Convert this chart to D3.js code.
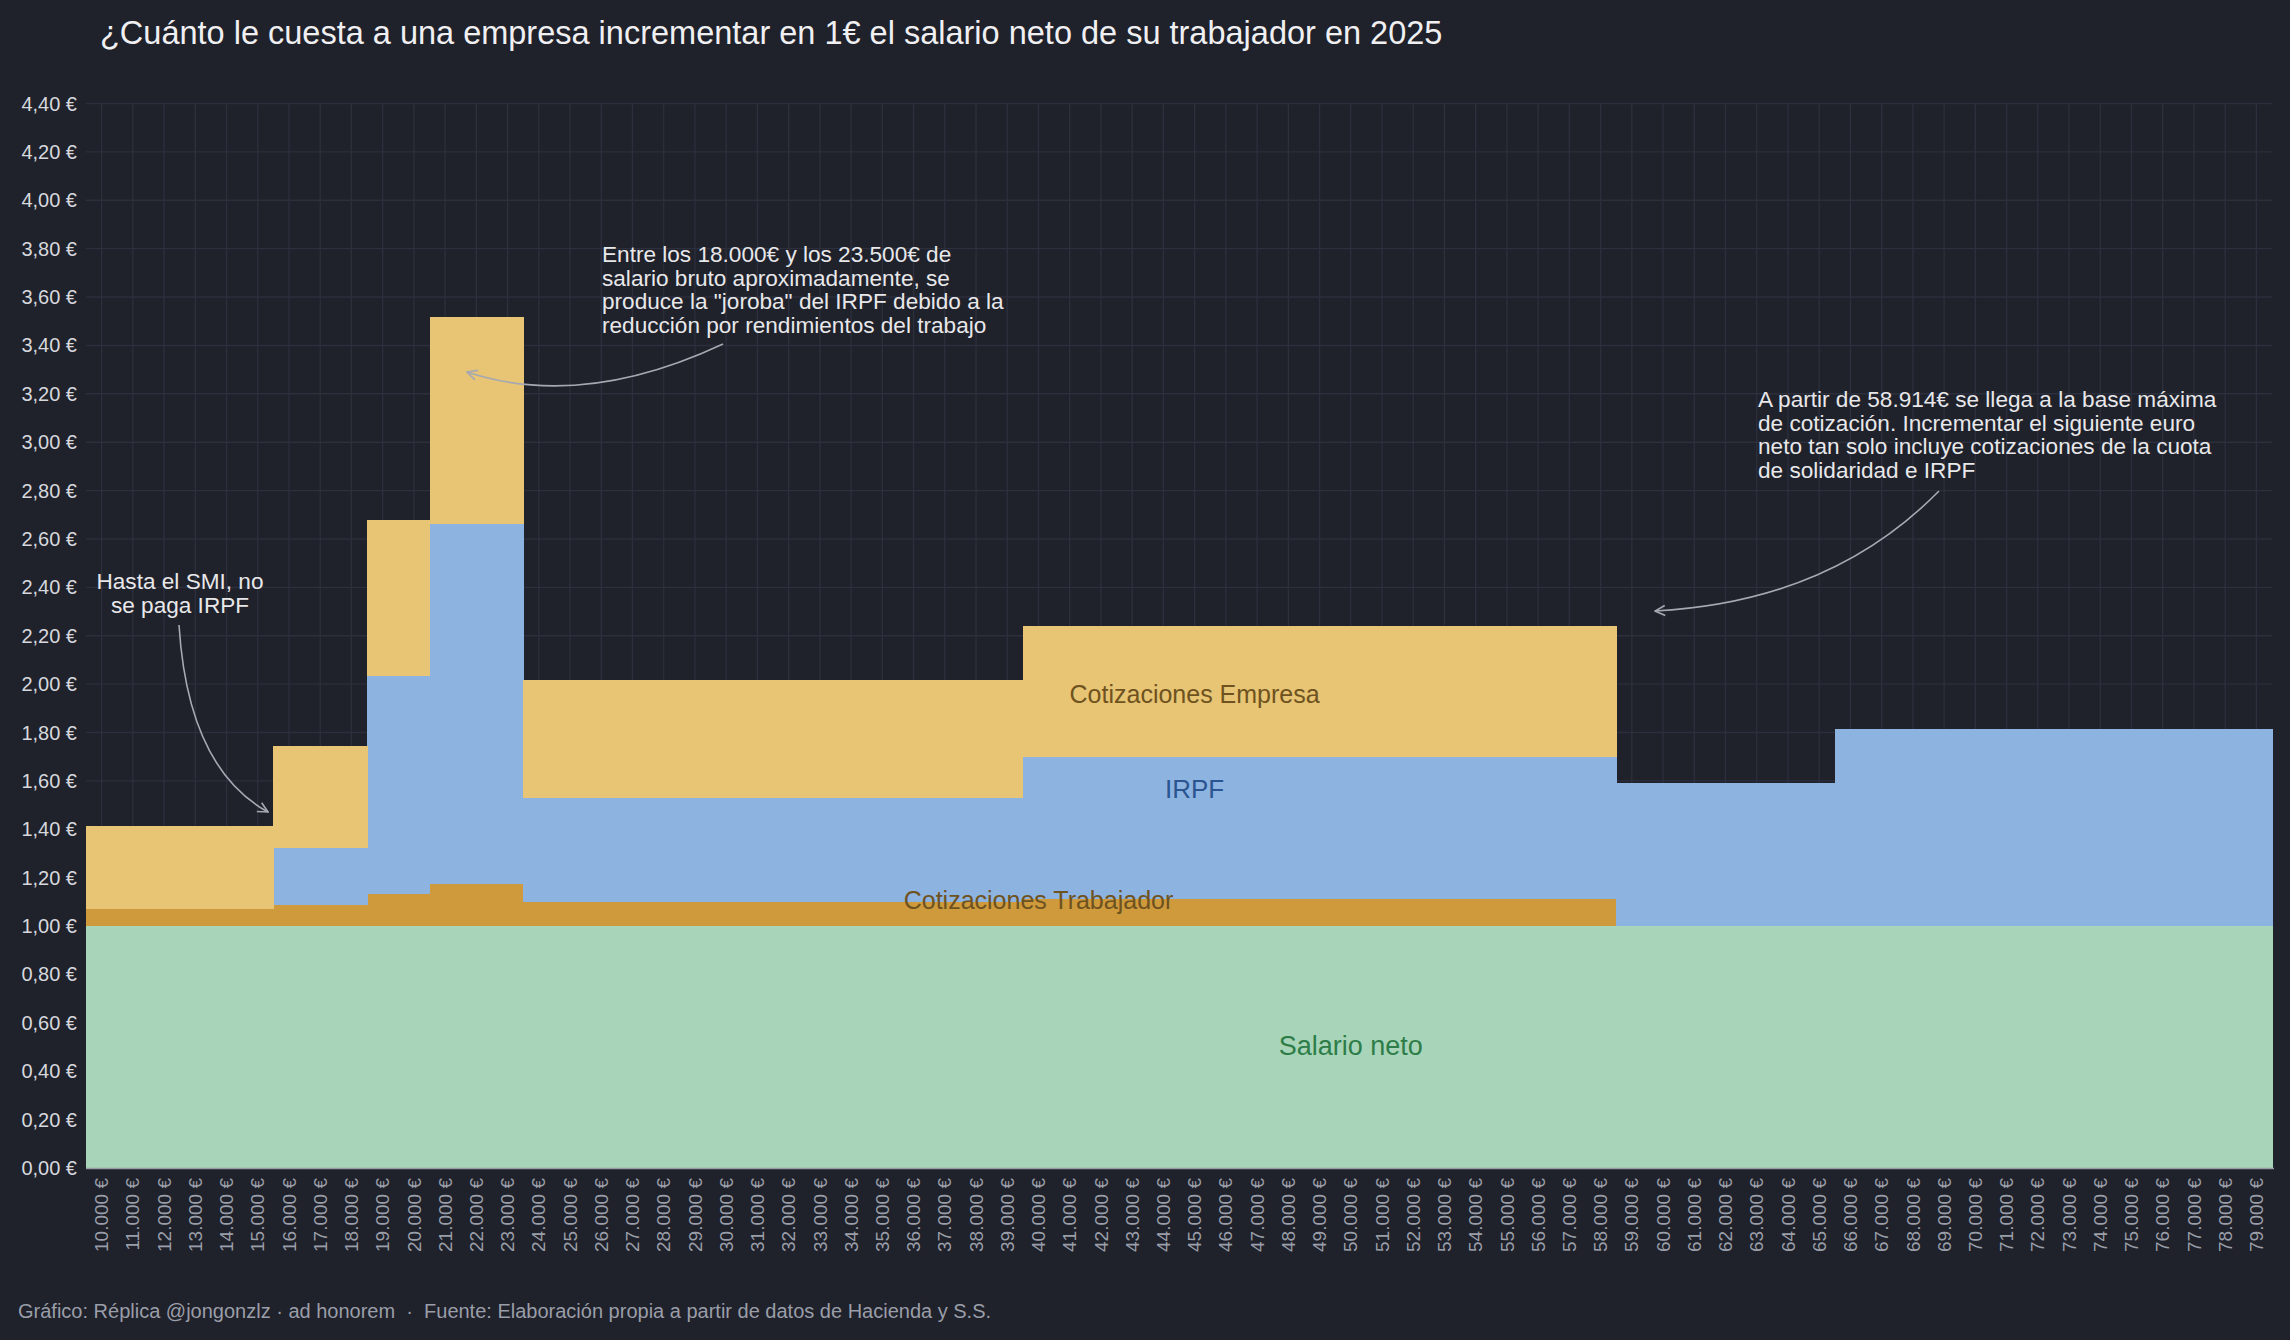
<!DOCTYPE html>
<html><head><meta charset="utf-8">
<script src="https://cdn.jsdelivr.net/npm/d3@7"></script>
<style>
html,body{margin:0;padding:0;background:#1f212b;}
svg{display:block;}
text{font-family:"Liberation Sans", Arial, Helvetica, sans-serif;}
</style></head><body>
<svg id="chart" width="2290" height="1340"></svg>
<script>
// ---- DATA ----
const salarios = [10000,11000,12000,13000,14000,15000,16000,17000,18000,19000,
  20000,21000,22000,23000,24000,25000,26000,27000,28000,29000,
  30000,31000,32000,33000,34000,35000,36000,37000,38000,39000,
  40000,41000,42000,43000,44000,45000,46000,47000,48000,49000,
  50000,51000,52000,53000,54000,55000,56000,57000,58000,59000,
  60000,61000,62000,63000,64000,65000,66000,67000,68000,69000,
  70000,71000,72000,73000,74000,75000,76000,77000,78000,79000];

const salarioNeto = [1,1,1,1,1,1, 1,1,1, 1,1, 1,1,1,
  1,1,1,1,1,1,1,1,1,1,1,1,1,1,1,1,
  1,1,1,1,1,1,1,1,1,1,1,1,1,1,1,1,1,1,1,
  1,1,1,1,1,1,1,
  1,1,1,1,1,1,1,1,1,1,1,1,1,1];

const cotTrabajador = [0.069,0.069,0.069,0.069,0.069,0.069, 0.086,0.086,0.086, 0.131,0.131, 0.172,0.172,0.172,
  0.099,0.099,0.099,0.099,0.099,0.099,0.099,0.099,0.099,0.099,0.099,0.099,0.099,0.099,0.099,0.099,
  0.110,0.110,0.110,0.110,0.110,0.110,0.110,0.110,0.110,0.110,0.110,0.110,0.110,0.110,0.110,0.110,0.110,0.110,0.110,
  0,0,0,0,0,0,0,
  0,0,0,0,0,0,0,0,0,0,0,0,0,0];

const irpf = [0,0,0,0,0,0, 0.235,0.235,0.235, 0.902,0.902, 1.488,1.488,1.488,
  0.431,0.431,0.431,0.431,0.431,0.431,0.431,0.431,0.431,0.431,0.431,0.431,0.431,0.431,0.431,0.431,
  0.587,0.587,0.587,0.587,0.587,0.587,0.587,0.587,0.587,0.587,0.587,0.587,0.587,0.587,0.587,0.587,0.587,0.587,0.587,
  0.590,0.590,0.590,0.590,0.590,0.590,0.590,
  0.815,0.815,0.815,0.815,0.815,0.815,0.815,0.815,0.815,0.815,0.815,0.815,0.815,0.815];

const cotEmpresa = [0.343,0.343,0.343,0.343,0.343,0.343, 0.422,0.422,0.422, 0.645,0.645, 0.857,0.857,0.857,
  0.487,0.487,0.487,0.487,0.487,0.487,0.487,0.487,0.487,0.487,0.487,0.487,0.487,0.487,0.487,0.487,
  0.543,0.543,0.543,0.543,0.543,0.543,0.543,0.543,0.543,0.543,0.543,0.543,0.543,0.543,0.543,0.543,0.543,0.543,0.543,
  0,0,0,0,0,0,0,
  0,0,0,0,0,0,0,0,0,0,0,0,0,0];

const yTicks = [0,0.2,0.4,0.6,0.8,1.0,1.2,1.4,1.6,1.8,2.0,2.2,2.4,2.6,2.8,3.0,3.2,3.4,3.6,3.8,4.0,4.2,4.4];

const seriesKeys = ["neto","trabajador","irpf","empresa"];
const seriesColors = ["#a8d5b9","#cf9a3c","#8db3e0","#e7c574"];

const seriesLabels = [
  {text:"Cotizaciones Empresa", salario:45000, valor:1.96, color:"#6e5220", size:25},
  {text:"IRPF", salario:45000, valor:1.565, color:"#2a5590", size:26},
  {text:"Cotizaciones Trabajador", salario:40000, valor:1.108, color:"#6e5220", size:25},
  {text:"Salario neto", salario:50000, valor:0.505, color:"#2e7d48", size:27}
];

const titulo = "¿Cuánto le cuesta a una empresa incrementar en 1€ el salario neto de su trabajador en 2025";
const pie = "Gráfico: Réplica @jongonzlz · ad honorem  ·  Fuente: Elaboración propia a partir de datos de Hacienda y S.S.";

// ---- CHART ----
const W = 2290, H = 1340;
const m = {left:86, right:18, top:103.5, bottom:172};
const svg = d3.select("#chart");
svg.append("rect").attr("width",W).attr("height",H).attr("fill","#1f212b");

const es = d3.formatLocale({decimal:",", thousands:".", grouping:[3], currency:["","\u00a0€"]});
const fmtX = v => es.format(",.0f")(v) + " €";
const fmtY = v => es.format(".2f")(v) + " €";

const x = d3.scaleBand().domain(salarios).range([m.left, W - m.right]).padding(0);
const y = d3.scaleLinear().domain([0, 4.4]).range([H - m.bottom, m.top]);

const table = salarios.map((s,i)=>({salario:s, neto:salarioNeto[i], trabajador:cotTrabajador[i], irpf:irpf[i], empresa:cotEmpresa[i]}));
const stacked = d3.stack().keys(seriesKeys)(table);

// grid
const grid = svg.append("g");
grid.selectAll("line.v").data(salarios).join("line")
  .attr("x1", d=>x(d)+x.bandwidth()/2).attr("x2", d=>x(d)+x.bandwidth()/2)
  .attr("y1", y(4.4)).attr("y2", y(0))
  .attr("stroke","#2c2f3c").attr("stroke-width",1.4);
grid.selectAll("line.h").data(yTicks).join("line")
  .attr("x1", m.left).attr("x2", W - m.right)
  .attr("y1", d=>y(d)).attr("y2", d=>y(d))
  .attr("stroke","#2c2f3c").attr("stroke-width",1.4);

// bars
svg.append("g").selectAll("g").data(stacked).join("g")
  .attr("fill",(d,i)=>seriesColors[i])
  .selectAll("rect").data(d=>d).join("rect")
  .attr("x", d=>x(d.data.salario))
  .attr("width", x.bandwidth()+0.6)
  .attr("y", d=>y(d[1]))
  .attr("height", d=>Math.max(0, y(d[0]) - y(d[1])))
  .attr("shape-rendering","crispEdges");

// axis line
svg.append("line").attr("x1",m.left).attr("x2",W-m.right+2).attr("y1",y(0)+0.5).attr("y2",y(0)+0.5)
  .attr("stroke","#9a9ca4").attr("stroke-width",1.6);

// y labels
svg.append("g").selectAll("text").data(yTicks).join("text")
  .attr("x", 77).attr("y", d=>y(d)).attr("dy","0.35em")
  .attr("text-anchor","end").attr("fill","#d6d8dd").attr("font-size",20)
  .text(fmtY);

// x labels
svg.append("g").selectAll("text").data(salarios).join("text")
  .attr("transform", d=>`translate(${x(d)+x.bandwidth()/2},${y(0)+10}) rotate(-90)`)
  .attr("dy","0.35em").attr("text-anchor","end")
  .attr("fill","#9a9ea8").attr("font-size",19)
  .text(fmtX);

// series labels
svg.append("g").selectAll("text").data(seriesLabels).join("text")
  .attr("x", d=>x(d.salario)+x.bandwidth()/2).attr("y", d=>y(d.valor))
  .attr("dy","0.35em").attr("text-anchor","middle")
  .attr("fill", d=>d.color).attr("font-size", d=>d.size)
  .text(d=>d.text);

// title & footer
svg.append("text").attr("x",100).attr("y",44).attr("fill","#f0f0f2").attr("font-size",32.5).text(titulo);
svg.append("text").attr("x",18).attr("y",1318).attr("fill","#9a9ea8").attr("font-size",20)
  .style("white-space","pre").attr("xml:space","preserve").text(pie);

// annotations
const defs = svg.append("defs");
defs.append("marker").attr("id","arr").attr("viewBox","0 0 12 12").attr("refX",11).attr("refY",6)
  .attr("markerWidth",12).attr("markerHeight",12).attr("markerUnits","userSpaceOnUse").attr("orient","auto")
  .append("path").attr("d","M1,1 L11,6 L1,11").attr("fill","none").attr("stroke","#a6a9b2").attr("stroke-width",1.6);

function note(lines, xPos, yBase, anchor){
  const t = svg.append("text").attr("fill","#e8e8ea").attr("font-size",22.6).attr("text-anchor",anchor);
  lines.forEach((l,i)=>t.append("tspan").attr("x",xPos).attr("y",yBase+i*23.7).text(l));
}
note(["Hasta el SMI, no","se paga IRPF"], 180, 589, "middle");
note(["Entre los 18.000€ y los 23.500€ de","salario bruto aproximadamente, se","produce la \"joroba\" del IRPF debido a la","reducción por rendimientos del trabajo"], 602, 262, "start");
note(["A partir de 58.914€ se llega a la base máxima","de cotización. Incrementar el siguiente euro","neto tan solo incluye cotizaciones de la cuota","de solidaridad e IRPF"], 1758, 407, "start");

const arrows = [
  "M179,625 Q188,768 268,812",
  "M723,344 Q582,410 467,372",
  "M1939,491 Q1830,602 1655,611"
];
svg.append("g").selectAll("path").data(arrows).join("path")
  .attr("d", d=>d).attr("fill","none").attr("stroke","#a6a9b2").attr("stroke-width",1.6)
  .attr("marker-end","url(#arr)");
</script>
</body></html>
